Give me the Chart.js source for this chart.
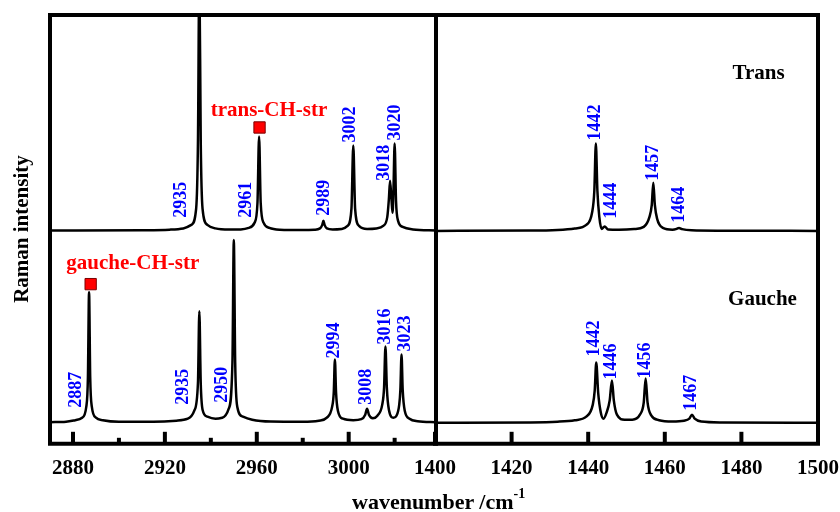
<!DOCTYPE html>
<html>
<head>
<meta charset="utf-8">
<script src="https://cdn.jsdelivr.net/npm/chart.js@4.4.1/dist/chart.umd.min.js"></script>
<style>
  body { margin: 0; background: #fff; width: 840px; height: 512px; position: relative; overflow: hidden; }
  canvas { position: absolute; top: 0; }
  #cL { left: 0; }
  #cR { left: 395px; }
  #xtitle { position: absolute; left: 352px; top: 489px; font: bold 22px "Liberation Serif", serif; color: #000; white-space: nowrap; }
  #xtitle sup { font-size: 14px; position: relative; top: -3px; }
</style>
</head>
<body>
<canvas id="cL" width="445" height="512"></canvas>
<canvas id="cR" width="456" height="512"></canvas>
<div id="xtitle">wavenumber /cm<sup>-1</sup></div>
<script>
// 縦に積み上げた2本のスペクトル（上：Trans, 下：Gauche）
const TRANS_OFFSET = 212;
const GAUCHE_OFFSET = 21;

// CH伸縮領域 (2870-3038 cm-1)  [波数, 強度]
const transCH = [
  [2870,0.3],[2910,0.6],[2922,1.2],[2928,2.5],[2931.5,6],[2933.6,22],[2934.4,90],[2935,260],[2935.6,90],
  [2936.4,22],[2938.5,6],[2942,2.5],[2948,1.3],[2953,1.5],[2956.5,3],[2959,8],[2960.3,28],[2961,94],
  [2961.7,28],[2963,8],[2965.5,3],[2970,1.2],[2980,0.8],[2985,1.2],[2987.5,2.5],[2988.5,6],[2989,10],
  [2989.5,6],[2990.5,2.5],[2993,1.5],[2997,2],[2999.5,5],[3001.2,22],[3002,85],[3002.8,22],[3004.5,5],
  [3008,2],[3012,2.5],[3015,5],[3016.8,14],[3017.5,32],[3018,50],[3018.6,32],[3019.1,18],[3019.5,42],
  [3020,87],[3020.6,30],[3021.5,10],[3023.5,4],[3028,1.5],[3038,0.5]
];
const gaucheCH = [
  [2870,0.5],[2877,1],[2881,2.5],[2884,5],[2885.8,16],[2886.5,45],[2887,130],[2887.5,45],[2888.2,16],
  [2890,5],[2893,2.5],[2900,1],[2915,1],[2925,2],[2930,4],[2932.8,12],[2934.4,40],[2935,111],[2935.6,40],
  [2936.4,13],[2938.5,6],[2942,4],[2945,5],[2947.8,14],[2949.4,60],[2950,182],[2950.6,60],[2951.5,16],
  [2954,6],[2958,3],[2966,1.2],[2980,1],[2987,2],[2990.5,5],[2992.8,16],[2993.5,30],[2994,63],[2994.5,30],
  [2995.3,12],[2997.5,4],[3002,2.5],[3005.5,3.5],[3007.2,8],[3008,14],[3008.8,8],[3010.5,4.5],[3012.5,7],
  [3014.6,18],[3015.4,35],[3016,76],[3016.6,35],[3017.5,13],[3019.5,5],[3020.8,7],[3022,18],[3022.5,33],
  [3023,68],[3023.5,33],[3024.4,12],[3026.5,4],[3030,1.5],[3038,0.5]
];
// CH2変角領域 (1400-1500 cm-1)
const transBend = [
  [1400,0],[1425,0.3],[1432,1],[1436.5,2.5],[1439.5,6],[1441,18],[1441.6,40],[1442,87],[1442.4,40],
  [1442.9,14],[1443.5,2],[1444.3,4.5],[1445.2,1.5],[1448,1.2],[1452,1.8],[1454.5,4],[1456,14],[1456.6,26],
  [1457,48],[1457.4,26],[1458,12],[1459.5,3],[1462,1.2],[1463.1,2],[1463.7,3],[1464.5,1.8],[1467,0.6],
  [1475,0.2],[1500,0]
];
const gaucheBend = [
  [1400,0],[1425,0.3],[1432,1],[1436.5,2.5],[1439.5,6],[1441.2,18],[1441.7,32],[1442.1,60],[1442.6,30],
  [1443.3,10],[1444,4],[1444.8,10],[1445.6,22],[1446.2,42],[1446.7,22],[1447.5,8],[1449.5,3],[1451.5,3],
  [1453.5,8],[1454.5,20],[1455,44],[1455.5,20],[1456.5,7],[1458.5,2.5],[1462,1.2],[1465,2],[1466.4,4],
  [1467.1,8],[1467.8,4],[1469.5,1.2],[1475,0.3],[1500,0]
];

// ピーク番号
const transCHPeaks = ['2935','2961','2989','3002','3018','3020'];
const gaucheCHPeaks = ['2887','2935','2950','2994','3008','3016','3023'];
const transBendPeaks = ['1442','1444','1457','1464'];
const gaucheBendPeaks = ['1442','1446','1456','1467'];
// ラベルの位置（波数, 縦位置）
const transCHLabelAt = [[2927.2,225],[2955.4,225],[2989.2,227],[3000.9,300],[3015.6,262],[3020.3,302]];
const gaucheCHLabelAt = [[2881.3,36],[2928,39],[2945,41],[2993.9,85],[3007.8,39],[3016,99],[3024.7,92]];
const transBendLabelAt = [[1441.8,302],[1446.1,224],[1456.9,262],[1463.7,220]];
const gaucheBendLabelAt = [[1441.5,87],[1446,64],[1454.8,65],[1466.8,33]];

// 軸目盛
const ticksLeft = [2880, 2920, 2960, 3000];
const minorLeft = [2900, 2940, 2980, 3020];
const ticksRight = [1400, 1420, 1440, 1460, 1480, 1500];

// 赤マーカー
const markerTrans = [[2961.2, 315]];
const markerGauche = [[2887.7, 159]];

const SERIF = '"Liberation Serif", "Times New Roman", serif';

function toXY(arr, off) {
  return arr.map(([x, y]) => ({ x: x, y: y + off }));
}
function peakLabels(texts, at) {
  return texts.map((t, i) => ({ text: t, x: at[i][0], y: at[i][1] }));
}

// 文字・目盛・枠を描くプラグイン
const decor = {
  id: 'decor',
  afterDatasetsDraw(chart, args, opts) {
    const { ctx, chartArea: a } = chart;
    const x = chart.scales.x, y = chart.scales.y;
    ctx.save();
    // ピーク番号（縦書き）
    ctx.fillStyle = '#0000ff';
    ctx.font = 'bold 18px ' + SERIF;
    ctx.textAlign = 'left';
    ctx.textBaseline = 'middle';
    opts.peaks.forEach(p => {
      ctx.save();
      ctx.translate(x.getPixelForValue(p.x), y.getPixelForValue(p.y));
      ctx.rotate(-Math.PI / 2);
      ctx.fillText(p.text, 0, 0);
      ctx.restore();
    });
    // 注記
    ctx.textAlign = 'center';
    opts.notes.forEach(n => {
      ctx.fillStyle = n.color;
      ctx.font = 'bold 21px ' + SERIF;
      ctx.fillText(n.text, x.getPixelForValue(n.x), y.getPixelForValue(n.y));
    });
    // 内向き目盛
    ctx.strokeStyle = '#000';
    ctx.lineWidth = 4;
    ctx.lineCap = 'butt';
    const tick = (v, len) => {
      const px = x.getPixelForValue(v);
      ctx.beginPath();
      ctx.moveTo(px, a.bottom);
      ctx.lineTo(px, a.bottom - len);
      ctx.stroke();
    };
    x.ticks.forEach(t => tick(t.value, 12));
    opts.minor.forEach(v => tick(v, 6));
    // 枠
    ctx.beginPath();
    if (opts.leftSide) {
      ctx.moveTo(a.left, a.bottom);
      ctx.lineTo(a.left, a.top);
    } else {
      ctx.moveTo(a.left, a.top);
    }
    ctx.lineTo(a.right, a.top);
    ctx.lineTo(a.right, a.bottom);
    ctx.lineTo(a.left - 2, a.bottom);
    ctx.stroke();
    ctx.restore();
  }
};

function lineSet(data) {
  return {
    type: 'line', data: data, borderColor: '#000', borderWidth: 2.5,
    pointRadius: 0, cubicInterpolationMode: 'monotone', fill: false
  };
}
function markerSet(data) {
  return {
    type: 'scatter', data: data, pointStyle: 'rect', pointRadius: 8,
    backgroundColor: '#ff0000', borderColor: '#7a0000', borderWidth: 1
  };
}

function makeChart(id, cfg) {
  return new Chart(document.getElementById(id), {
    data: { datasets: cfg.datasets },
    options: {
      responsive: false,
      animation: false,
      devicePixelRatio: 1,
      layout: { padding: cfg.padding },
      plugins: { legend: { display: false }, tooltip: { enabled: false }, decor: cfg.decor },
      scales: {
        x: {
          type: 'linear', min: cfg.min, max: cfg.max,
          grid: { display: false, drawTicks: false },
          border: { display: false },
          afterBuildTicks: s => { s.ticks = cfg.ticks.map(v => ({ value: v })); },
          ticks: {
            color: '#000', padding: 12, maxRotation: 0, autoSkip: false,
            font: { family: SERIF, size: 21, weight: 'bold' },
            callback: v => String(v)
          }
        },
        y: { type: 'linear', min: 0, max: 427, display: false }
      }
    },
    plugins: [decor]
  });
}

makeChart('cL', {
  min: 2870, max: 3038, ticks: ticksLeft,
  padding: { left: 50, top: 15, right: 5, bottom: 19 },
  datasets: [
    lineSet(toXY(transCH, TRANS_OFFSET)),
    lineSet(toXY(gaucheCH, GAUCHE_OFFSET)),
    markerSet(toXY(markerTrans, 0)),
    markerSet(toXY(markerGauche, 0))
  ],
  decor: {
    leftSide: true,
    minor: minorLeft,
    peaks: peakLabels(transCHPeaks, transCHLabelAt).concat(peakLabels(gaucheCHPeaks, gaucheCHLabelAt)),
    notes: [
      { text: 'trans-CH-str', x: 2965.3, y: 332, color: '#ff0000' },
      { text: 'gauche-CH-str', x: 2906, y: 179, color: '#ff0000' }
    ]
  }
});

makeChart('cR', {
  min: 1400, max: 1500, ticks: ticksRight,
  padding: { left: 40, top: 15, right: 0, bottom: 19 },
  datasets: [
    lineSet(toXY(transBend, TRANS_OFFSET)),
    lineSet(toXY(gaucheBend, GAUCHE_OFFSET))
  ],
  decor: {
    leftSide: false,
    minor: [],
    peaks: peakLabels(transBendPeaks, transBendLabelAt).concat(peakLabels(gaucheBendPeaks, gaucheBendLabelAt)),
    notes: [
      { text: 'Trans', x: 1484.5, y: 369, color: '#000' },
      { text: 'Gauche', x: 1485.5, y: 144, color: '#000' }
    ]
  }
});

// 縦軸タイトル
(function () {
  const c = document.getElementById('cL');
  const ctx = c.getContext('2d');
  ctx.save();
  ctx.translate(23, 229);
  ctx.rotate(-Math.PI / 2);
  ctx.font = 'bold 21px ' + SERIF;
  ctx.fillStyle = '#000';
  ctx.textAlign = 'center';
  ctx.textBaseline = 'middle';
  ctx.fillText('Raman intensity', 0, 0);
  ctx.restore();
})();
</script>
</body>
</html>
